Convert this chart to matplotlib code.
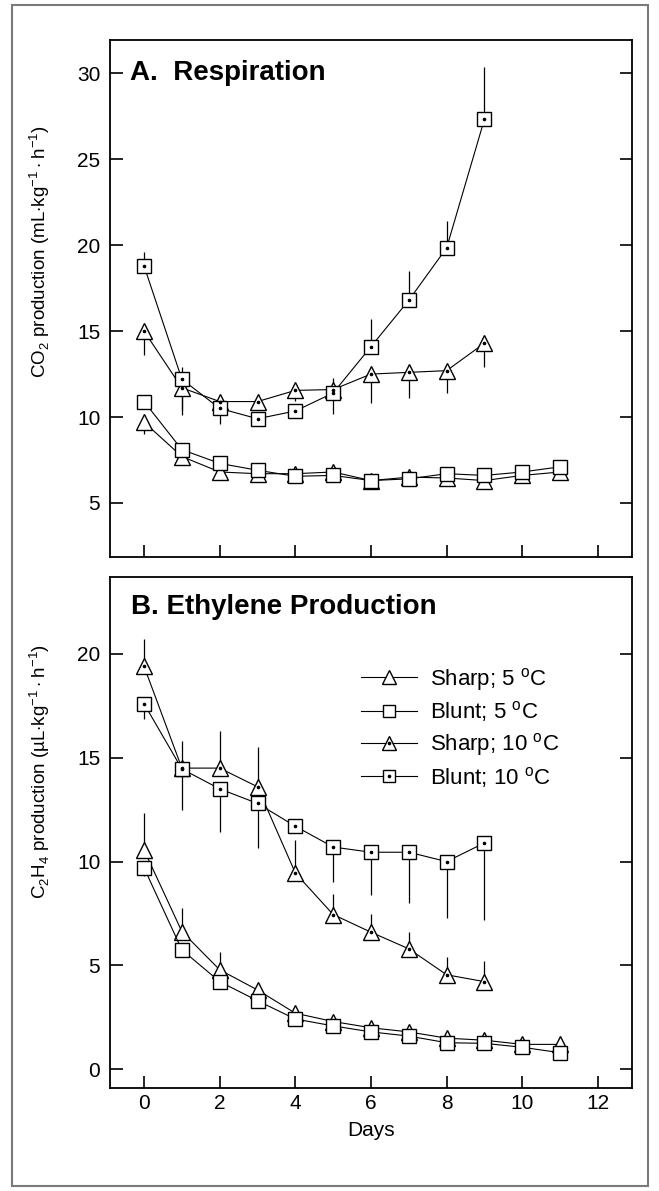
import numpy as np
import matplotlib
matplotlib.use('Agg')
import matplotlib.pyplot as plt
from matplotlib.lines import Line2D
from matplotlib.patches import Rectangle

plt.rcParams['font.family'] = ['Liberation Sans', 'DejaVu Sans']
plt.rcParams['mathtext.fontset'] = 'custom'
plt.rcParams['mathtext.rm'] = 'Liberation Sans'

# ----- data -----
days_5c = np.arange(12)
days_10c = np.arange(10)

# A. Respiration, CO2 production (mL kg-1 h-1)
co2_sharp_5 = [9.7, 7.7, 6.8, 6.7, 6.7, 6.8, 6.3, 6.5, 6.45, 6.3, 6.6, 6.8]
co2_blunt_5 = [10.9, 8.1, 7.3, 6.9, 6.55, 6.6, 6.3, 6.4, 6.7, 6.6, 6.8, 7.1]
co2_sharp_10 = [15.0, 11.7, 10.9, 10.9, 11.55, 11.6, 12.5, 12.6, 12.7, 14.3]
co2_blunt_10 = [18.8, 12.2, 10.5, 9.9, 10.35, 11.4, 14.1, 16.8, 19.85, 27.35]

# one-sided error bars (lower, upper)
co2_sharp_5_lo = [0.7, 0, 0, 0, 0, 0, 0, 0, 0, 0, 0, 0]
co2_sharp_5_hi = [0] * 12
co2_blunt_5_lo = [0] * 12
co2_blunt_5_hi = [0] * 12
co2_sharp_10_lo = [1.4, 1.6, 0, 0.5, 0.6, 0, 1.7, 1.5, 1.3, 1.4]
co2_sharp_10_hi = [0] * 10
co2_blunt_10_lo = [0, 1.8, 0.9, 0, 0, 1.2, 0, 0, 0, 0]
co2_blunt_10_hi = [0.8, 0.7, 0, 0, 0, 0.9, 1.6, 1.7, 1.55, 3.05]

# B. Ethylene production, C2H4 production (uL kg-1 h-1)
eth_sharp_5 = [10.56, 6.63, 4.79, 3.82, 2.7, 2.3, 2.0, 1.8, 1.5, 1.4, 1.2, 1.2]
eth_blunt_5 = [9.7, 5.75, 4.22, 3.3, 2.42, 2.09, 1.8, 1.6, 1.28, 1.25, 1.06, 0.8]
eth_sharp_10 = [19.4, 14.5, 14.5, 13.6, 9.45, 7.45, 6.6, 5.8, 4.55, 4.22]
eth_blunt_10 = [17.6, 14.46, 13.5, 12.8, 11.7, 10.7, 10.45, 10.45, 10.0, 10.9]

eth_sharp_5_lo = [0] * 12
eth_sharp_5_hi = [1.8, 1.12, 0.88, 0, 0, 0, 0, 0, 0, 0, 0, 0]
eth_blunt_5_lo = [0.4, 0, 0, 0, 0, 0, 0, 0, 0, 0, 0, 0]
eth_blunt_5_hi = [0] * 12
eth_sharp_10_lo = [0] * 10
eth_sharp_10_hi = [1.3, 0, 1.8, 1.9, 1.6, 1.0, 0.9, 0.8, 0.85, 1.0]
eth_blunt_10_lo = [0.72, 2.0, 2.1, 2.15, 0, 1.66, 2.05, 2.42, 2.7, 3.7]
eth_blunt_10_hi = [0, 1.35, 0, 0, 0, 0, 0, 0, 0, 0]

legend_labels = ['Sharp; 5 $^\\mathregular{o}$C', 'Blunt; 5 $^\\mathregular{o}$C',
                 'Sharp; 10 $^\\mathregular{o}$C', 'Blunt; 10 $^\\mathregular{o}$C']

W, H = 659, 1191
fig = plt.figure(figsize=(W / 100, H / 100), dpi=100)

axA = fig.add_axes([110 / W, 1 - 557 / H, 522 / W, 517 / H])
axB = fig.add_axes([110 / W, 1 - 1088 / H, 522 / W, 511 / H])


def draw_series(ax, x, y, lo, hi, marker, dotted, ms):
    ax.errorbar(x, y, yerr=[lo, hi], fmt='none', ecolor='k', elinewidth=0.9,
                capsize=0, zorder=1)
    ax.plot(x, y, color='k', lw=0.8, marker=marker, ms=ms, mfc='white',
            mec='k', mew=1.0, zorder=2)
    if dotted:
        ax.plot(x, y, ls='none', marker='o', ms=1.6, color='k', zorder=3)


def style_axes(ax, ylim, yticks, show_x):
    ax.set_xlim(-0.9, 12.9)
    ax.set_ylim(*ylim)
    ax.set_xticks(np.arange(0, 13, 2))
    ax.set_yticks(yticks)
    ax.tick_params(direction='in', length=9, width=1.2, right=True, top=False,
                   labelsize=15, labelbottom=show_x)
    ax.tick_params(axis='y', pad=7)
    ax.tick_params(axis='x', pad=4)
    for s in ax.spines.values():
        s.set_linewidth(1.3)


for ax, data in [
    (axA, [(days_5c, co2_sharp_5, co2_sharp_5_lo, co2_sharp_5_hi, '^', False, 11),
           (days_5c, co2_blunt_5, co2_blunt_5_lo, co2_blunt_5_hi, 's', False, 10),
           (days_10c, co2_sharp_10, co2_sharp_10_lo, co2_sharp_10_hi, '^', True, 11),
           (days_10c, co2_blunt_10, co2_blunt_10_lo, co2_blunt_10_hi, 's', True, 10)]),
    (axB, [(days_5c, eth_sharp_5, eth_sharp_5_lo, eth_sharp_5_hi, '^', False, 11),
           (days_5c, eth_blunt_5, eth_blunt_5_lo, eth_blunt_5_hi, 's', False, 10),
           (days_10c, eth_sharp_10, eth_sharp_10_lo, eth_sharp_10_hi, '^', True, 11),
           (days_10c, eth_blunt_10, eth_blunt_10_lo, eth_blunt_10_hi, 's', True, 10)]),
]:
    for x, y, lo, hi, m, d, ms in data:
        draw_series(ax, x, y, lo, hi, m, d, ms)

style_axes(axA, (1.85, 31.95), np.arange(5, 31, 5), False)
style_axes(axB, (-0.9, 23.7), np.arange(0, 21, 5), True)

axA.text(0.038, 0.936, 'A.  Respiration', transform=axA.transAxes,
         fontsize=20, fontweight='bold', ha='left', va='center')
axB.text(0.04, 0.941, 'B. Ethylene Production', transform=axB.transAxes,
         fontsize=20, fontweight='bold', ha='left', va='center')

axA.set_ylabel('CO$_\\mathregular{2}$ production (mL$\\cdot$kg$^\\mathregular{-1}\\cdot$h$^\\mathregular{-1}$)',
               fontsize=13.5)
axB.set_ylabel('C$_\\mathregular{2}$H$_\\mathregular{4}$ production (\u00b5L$\\cdot$kg$^\\mathregular{-1}\\cdot$h$^\\mathregular{-1}$)',
               fontsize=13.5)
axA.yaxis.set_label_coords(-0.112, 0.59)
axB.yaxis.set_label_coords(-0.112, 0.62)
axB.set_xlabel('Days', fontsize=15, labelpad=6)

# legend
def handle(marker, dotted, ms):
    h = Line2D([], [], color='k', lw=0.8, marker=marker, ms=ms, mfc='white', mec='k', mew=1.0)
    if dotted:
        return (h, Line2D([], [], ls='none', marker='o', ms=1.6, color='k'))
    return h

handles = [handle('^', False, 10), handle('s', False, 9),
           handle('^', True, 10), handle('s', True, 9)]
axB.legend(handles, legend_labels, loc='upper left', bbox_to_anchor=(0.46, 0.848),
           frameon=False, fontsize=16, handlelength=2.5, handletextpad=0.6,
           labelspacing=0.3, borderpad=0)

# outer frame
fig.add_artist(Rectangle((12 / W, 1 - 1186 / H), 636 / W, 1181 / H,
                         transform=fig.transFigure, fill=False,
                         edgecolor='#7a7a7a', lw=1.5))

fig.savefig('out.png', dpi=100)
